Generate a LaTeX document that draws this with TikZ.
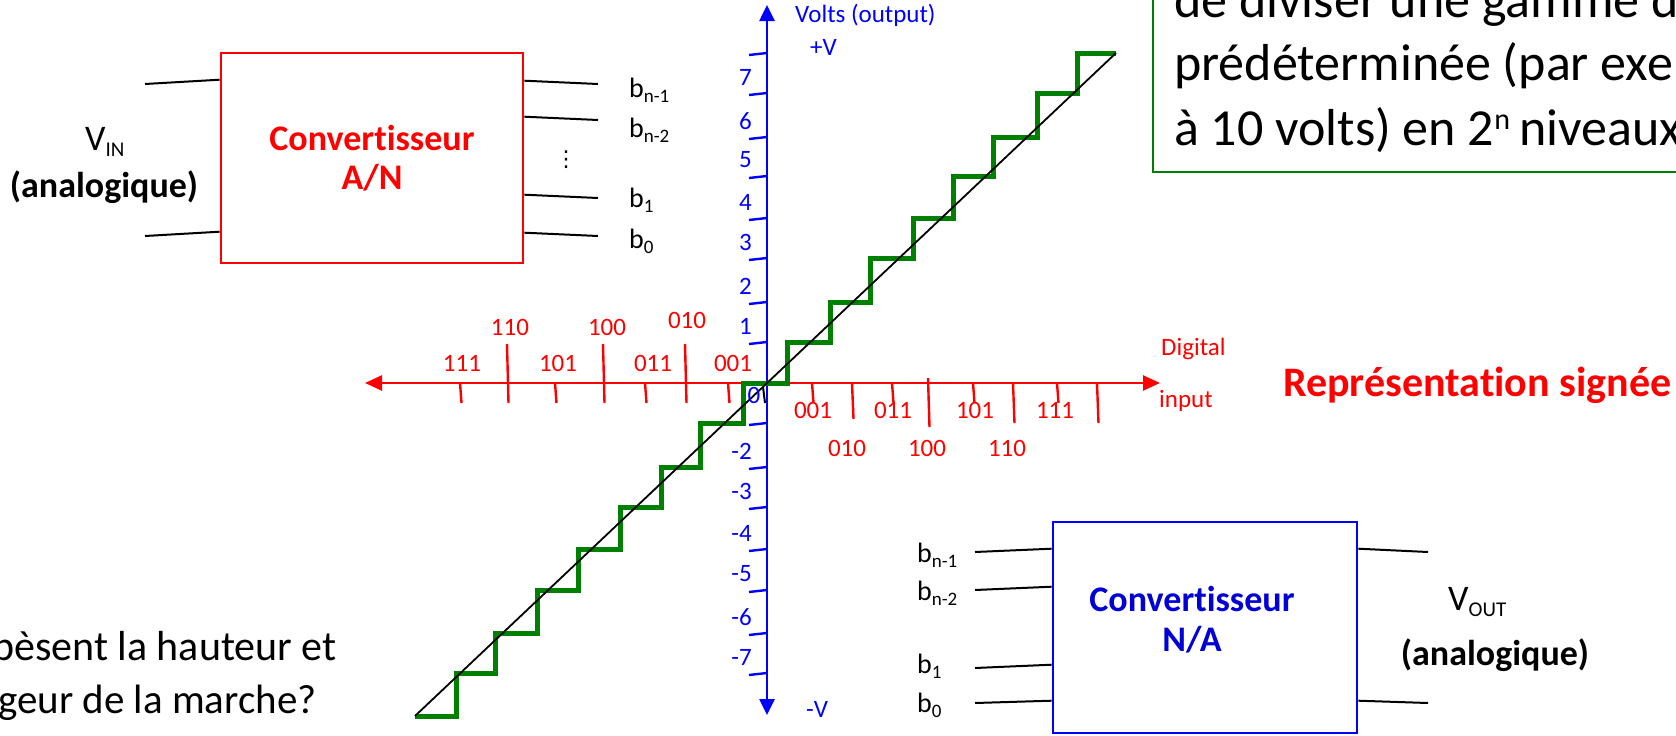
\documentclass[tikz,border=0pt]{standalone}
\usepackage{fontspec}
\setmainfont{Carlito}[Ligatures={NoCommon,NoDiscretionary}]
\newfontfamily\dejavu{DejaVu Sans}
\usetikzlibrary{arrows.meta,calc}
\definecolor{pr}{RGB}{255,0,0}
\definecolor{pb}{RGB}{0,0,255}
\definecolor{pg}{RGB}{0,128,0}
\definecolor{tb}{RGB}{0,0,215}
\newcommand{\subtext}[3]{\raisebox{-#3pt}{\fontsize{#2}{#2}\selectfont #1}}
\begin{document}
\begin{tikzpicture}[x=1pt,y=-1pt,
  wire/.style={line width=2pt,black},
  axisline/.style={line width=2.6pt},
  tk/.style={line width=2.4pt},
  lab/.style={inner sep=0pt,font=\fontsize{25}{30}\selectfont},
  blab/.style={inner sep=0pt,anchor=base west,font=\fontsize{28}{34}\selectfont},
]
\useasboundingbox (0,0) rectangle (1676,736);
\clip (0,0) rectangle (1676,736);

% ---------- A/N converter ----------
\node[draw=pr, line width=2.6pt, minimum width=302pt, minimum height=210pt, inner sep=0pt,
      text=pr, font=\bfseries\fontsize{36}{39}\selectfont, align=center] (adc) at (372,158) {Convertisseur\\A/N};
\coordinate (vinA) at (145,84);
\coordinate (vinB) at (145,236);
\coordinate (ao1) at (598,84);
\coordinate (ao2) at (598,120);
\coordinate (ao3) at (598,198);
\coordinate (ao4) at (598,236);
\draw[wire] (vinA) -- ($(adc.north west)+(0,28)$);
\draw[wire] (vinB) -- ($(adc.north west)+(0,180)$);
\draw[wire] ($(adc.north east)+(0,29)$) -- (ao1);
\draw[wire] ($(adc.north east)+(0,65)$) -- (ao2);
\draw[wire] ($(adc.north east)+(0,143)$) -- (ao3);
\draw[wire] ($(adc.north east)+(0,181)$) -- (ao4);
\node[anchor=base west, inner sep=0pt, font=\fontsize{36}{40}\selectfont] (vin) at (85,150) {V\subtext{IN}{21}{6}};
\node[anchor=base, inner sep=0pt, font=\bfseries\fontsize{36}{40}\selectfont] (vinlab) at (104,197) {(analogique)};
\node[blab] (ab1) at (629,97) {b\subtext{n-1}{19}{5}};
\node[blab] (ab2) at (629,137) {b\subtext{n-2}{19}{5}};
\node[inner sep=0pt, font=\dejavu\fontsize{22}{22}\selectfont] (adots) at (566,160) {⋮};
\node[blab] (ab3) at (629,207) {b\subtext{1}{19}{5}};
\node[blab] (ab4) at (629,248) {b\subtext{0}{19}{5}};

% ---------- N/A converter ----------
\node[draw=pb, line width=2.6pt, minimum width=304pt, minimum height=211pt, inner sep=0pt] (dac) at (1205,627.5) {};
\node[text=tb, inner sep=0pt, font=\bfseries\fontsize{36}{40}\selectfont, align=center] (dactext) at (1192,620) {Convertisseur\\N/A};
\coordinate (di1) at (975,552);
\coordinate (di2) at (975,590);
\coordinate (di3) at (975,668);
\coordinate (di4) at (975,703);
\coordinate (doA) at (1428,552);
\coordinate (doB) at (1428,703);
\draw[wire] (di1) -- ($(dac.north west)+(0,28)$);
\draw[wire] (di2) -- ($(dac.north west)+(0,66)$);
\draw[wire] (di3) -- ($(dac.north west)+(0,144)$);
\draw[wire] (di4) -- ($(dac.north west)+(0,180)$);
\draw[wire] ($(dac.north east)+(0,28)$) -- (doA);
\draw[wire] ($(dac.north east)+(0,180)$) -- (doB);
\node[blab] (db1) at (917,562) {b\subtext{n-1}{19}{5}};
\node[blab] (db2) at (917,600) {b\subtext{n-2}{19}{5}};
\node[blab] (db3) at (917,673) {b\subtext{1}{19}{5}};
\node[blab] (db4) at (917,712) {b\subtext{0}{19}{5}};
\node[anchor=base west, inner sep=0pt, font=\fontsize{36}{40}\selectfont] (vout) at (1448,610) {V\subtext{OUT}{21}{6}};
\node[anchor=base, inner sep=0pt, font=\bfseries\fontsize{36}{40}\selectfont] (voutlab) at (1495,665) {(analogique)};

% ---------- axes ----------
\coordinate (ybot) at (767,715);
\coordinate (ytop) at (767,5);
\coordinate (xleft) at (365,383);
\coordinate (xright) at (1160,383);
\draw[pb, axisline, {Triangle[length=16pt,width=15pt]}-{Triangle[length=16pt,width=15pt]}] (ybot) -- (ytop);
\draw[pr, axisline, {Triangle[length=17pt,width=15pt]}-{Triangle[length=17pt,width=15pt]}] (xleft) -- (xright);

% y ticks
\foreach \y in {53,93,137,176,218,258,302,342,423,467,507,549,590,633,673}
  \draw[pb,tk] (749,{\y+2}) -- (767,\y);
% y labels
\foreach \v/\y in {7/93,6/137,5/176,4/218,3/258,2/302,1/342,-2/467,-3/507,-4/549,-5/590,-6/633,-7/673}
  \node[lab,text=pb,anchor=east] at (752,{\y-16}) {\v};
\node[lab,text=pb,anchor=base west] (voltlab) at (795,23) {Volts (output)};
\node[lab,text=pb,anchor=base west] (plusv) at (810,55) {+V};
\node[lab,text=pb,anchor=base west] (minusv) at (806,717) {-V};

% x ticks
\foreach \x/\a/\b in {460/383/403,507/344/403,555/383/403,603/344/403,645/383/403,685/344/403,728/383/403,
                      812/383/403,852/383/419,892/383/403,928/378/427,973/383/403,1013/383/423,1057/383/403,1097/383/423}
  \draw[pr,tk] (\x,\a) -- ({\x+1.5},\b);
% x labels
\foreach \t/\x/\y in {110/510/327,100/607/327,010/687/320,111/462/363,101/558/363,011/653/363,001/733/363,
                      001/813/410,011/893/410,101/975/410,111/1055/410,010/847/448,100/927/448,110/1007/448}
  \node[lab,text=pr] at (\x,\y) {\t};
\node[lab,text=pr,anchor=base west] (diglab) at (1161,355) {Digital};
\node[lab,text=pr,anchor=base west] (inplab) at (1159,407) {input};
\node[anchor=base west, inner sep=0pt, text=pr, font=\bfseries\fontsize{42}{50}\selectfont] (signee) at (1283,396) {Représentation signée};

% ---------- staircase ----------
\draw[pg, line width=5pt, line join=miter]
  (415,716) -- (456,716) -- (456,673) -- (495,673) -- (495,633) -- (537,633) -- (537,590) -- (578,590)
  -- (578,549) -- (620,549) -- (620,507) -- (661,507) -- (661,467) -- (700,467) -- (700,423) -- (743,423)
  -- (743,383) -- (787,383) -- (787,342) -- (830,342) -- (830,302) -- (870,302) -- (870,258) -- (913,258)
  -- (913,218) -- (953,218) -- (953,176) -- (993,176) -- (993,137) -- (1037,137) -- (1037,93) -- (1077,93)
  -- (1077,53) -- (1116,53);
\draw[black, line width=1.8pt] (415,716) -- (1116,53);
\node[lab,text=pb] (zero) at (754,395) {0};
\draw[black, line width=2pt] (763,387) -- (765,403);

% ---------- top-right text box ----------
\draw[pg, line width=2.2pt] (1153,-20) rectangle (1700,172);
\node[anchor=base west, inner sep=0pt, font=\fontsize{52}{65}\selectfont] (tr1) at (1174,17) {de diviser une gamme d};
\node[anchor=base west, inner sep=0pt, font=\fontsize{52}{65}\selectfont] (tr2) at (1174,80) {prédéterminée (par exe};
\node[anchor=base west, inner sep=0pt, font=\fontsize{52}{65}\selectfont] (tr3) at (1174,145) {à 10 volts) en 2\raisebox{16pt}{\fontsize{30}{30}\selectfont n}\hspace{9pt}niveaux};

% ---------- bottom-left question ----------
\node[anchor=base west, inner sep=0pt, font=\fontsize{42}{53}\selectfont] (q1) at (-8,660) {pèsent la hauteur et};
\node[anchor=base west, inner sep=0pt, font=\fontsize{41}{53}\selectfont] (q2) at (-2,713) {geur de la marche?};
\end{tikzpicture}
\end{document}
